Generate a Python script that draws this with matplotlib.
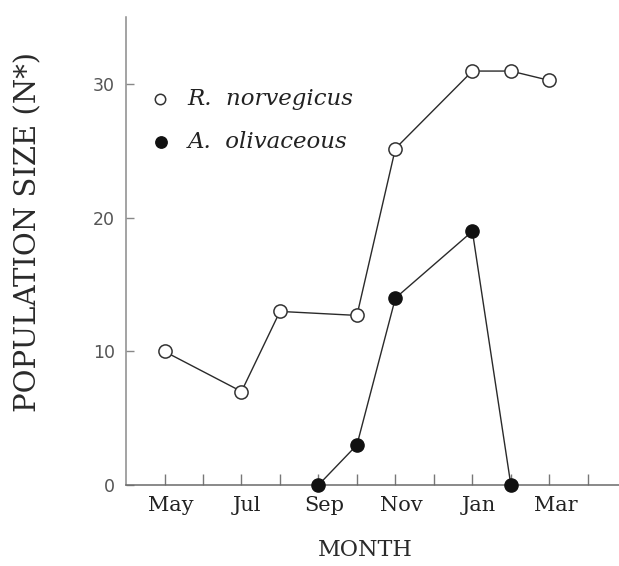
import matplotlib
matplotlib.use("Agg")
import matplotlib.pyplot as plt
import matplotlib.transforms as mtransforms

# Month index: May=5 ... Dec=12, Jan=13, Feb=14, Mar=15, Apr=16
rat_months = [5, 7, 8, 10, 11, 13, 14, 15]
rat_values = [10.0, 7.0, 13.0, 12.7, 25.2, 31.0, 31.0, 30.3]
opossum_months = [9, 10, 11, 13, 14]
opossum_values = [0.0, 3.0, 14.0, 19.0, 0.0]

month_ticks = [5, 6, 7, 8, 9, 10, 11, 12, 13, 14, 15, 16]
month_labels = ["May", "", "Jul", "", "Sep", "", "Nov", "", "Jan", "", "Mar", ""]
y_ticks = [0, 10, 20, 30]

fig = plt.figure(figsize=(6.19, 5.66), dpi=100)
ax = fig.add_axes([0.2036, 0.1431, 1 - 0.2036, 0.97 - 0.1431])

line_color = "#2a2a2a"
ax.plot(rat_months, rat_values, color=line_color, lw=1.0, marker="o",
        ms=9.5, mfc="white", mec="#333333", mew=1.1, zorder=3)
ax.plot(opossum_months, opossum_values, color=line_color, lw=1.0, marker="o",
        ms=9.5, mfc="#111111", mec="#111111", mew=1.0, zorder=4, clip_on=False)

ax.set_xlim(4, 16.81)
ax.set_ylim(0, 35.05)

for s in ["top", "right"]:
    ax.spines[s].set_visible(False)
ax.spines["left"].set_color("#8a8a8a")
ax.spines["bottom"].set_color("#6a6a6a")
ax.spines["left"].set_linewidth(1.1)
ax.spines["bottom"].set_linewidth(1.1)

ax.set_xticks(month_ticks)
ax.set_xticklabels(month_labels, family="DejaVu Serif", fontsize=15, color="#222222")
ax.tick_params(axis="x", direction="in", length=8, width=1, color="#777777", pad=8)
offset = mtransforms.ScaledTranslation(6 / 100, 0, fig.dpi_scale_trans)
for lab in ax.get_xticklabels():
    lab.set_transform(lab.get_transform() + offset)

ax.set_yticks(y_ticks)
ax.set_yticklabels([str(v) for v in y_ticks], family="DejaVu Sans", fontsize=12.5, color="#555555")
ax.tick_params(axis="y", direction="in", length=6, width=1, color="#888888", pad=8)

fig.text(0.590, 0.008, "MONTH", family="DejaVu Serif", fontsize=16,
         color="#2a2a2a", ha="center", va="bottom")
fig.text(0.046, 0.590, "POPULATION SIZE (N*)", family="DejaVu Serif", fontsize=21,
         color="#2a2a2a", ha="center", va="center", rotation=90)

# legend drawn as markers + text in axes data coordinates
ax.plot([4.89], [28.94], marker="o", ms=7.5, mfc="white", mec="#333333", mew=1.1,
        ls="none", clip_on=False)
ax.plot([4.92], [25.7], marker="o", ms=8.2, mfc="#111111", mec="#111111",
        ls="none", clip_on=False)
ax.text(5.6, 28.94, "R.  norvegicus", family="DejaVu Serif", style="italic",
        fontsize=16.5, color="#222222", va="center", ha="left")
ax.text(5.6, 25.7, "A.  olivaceous", family="DejaVu Serif", style="italic",
        fontsize=16.5, color="#222222", va="center", ha="left")

fig.savefig("out.png", dpi=100)
